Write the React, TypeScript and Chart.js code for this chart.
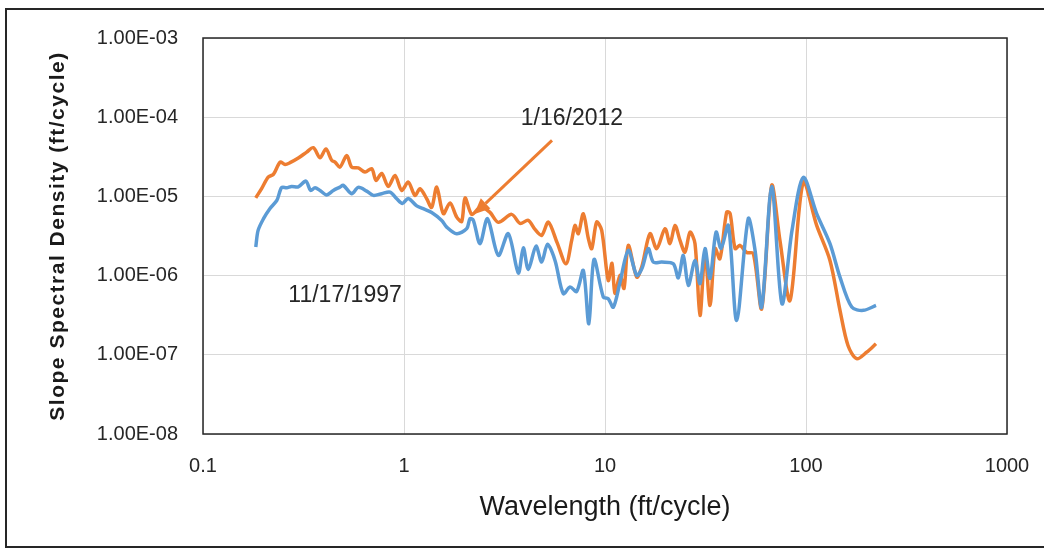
import React, { useEffect, useRef } from "react";
import { Chart, registerables } from "chart.js";

Chart.register(...registerables);

// ---- data ----
const seriesNames = ["11/17/1997", "1/16/2012"];

const wavelength1997 = [
  0.183, 0.188, 0.2, 0.215, 0.233, 0.246, 0.261, 0.276, 0.298, 0.325,
  0.343, 0.361, 0.382, 0.412, 0.445, 0.48, 0.499, 0.549, 0.592, 0.652,
  0.704, 0.774, 0.852, 0.92, 0.983, 1.05, 1.157, 1.247, 1.373, 1.54,
  1.631, 1.829, 2.051, 2.13, 2.213, 2.388, 2.603, 2.946, 3.304, 3.705,
  3.922, 4.153, 4.536, 4.842, 5.176, 5.64, 6.2, 6.7, 7.23, 7.8,
  8.31, 8.82, 9.81, 10.38, 11.0, 11.88, 13.06, 14.38, 15.28, 16.42,
  17.39, 19.15, 21.87, 23.16, 24.53, 25.97, 28.04, 29.69, 31.44, 33.3,
  35.7, 37.8, 41.1, 45.2, 51.6, 55.8, 60.2, 67.5, 75.9, 85.2,
  96.9, 113, 131.6, 147.6, 168.9, 192.8, 223,
];
const density1997 = [
  2.29e-6, 3.72e-6, 5.23e-6, 6.99e-6, 8.9e-6, 1.288e-5, 1.288e-5, 1.338e-5, 1.318e-5, 1.56e-5,
  1.19e-5, 1.288e-5, 1.19e-5, 1.045e-5, 1.19e-5, 1.31e-5, 1.377e-5, 1.082e-5, 1.3e-5, 1.166e-5,
  1.03e-5, 1.082e-5, 1.133e-5, 9.35e-6, 8.16e-6, 9.43e-6, 7.59e-6, 6.99e-6, 6.28e-6, 4.98e-6,
  4.1e-6, 3.38e-6, 3.91e-6, 5.23e-6, 4.98e-6, 2.53e-6, 5.23e-6, 1.8e-6, 3.38e-6, 1.08e-6,
  2.24e-6, 1.197e-6, 2.35e-6, 1.48e-6, 2.48e-6, 1.555e-6, 5.91e-7, 7.16e-7, 6.32e-7, 1.163e-6,
  2.47e-7, 1.6e-6, 5.35e-7, 5.11e-7, 4.0e-7, 8.28e-7, 2.08e-6, 1.006e-6, 1.233e-6, 2.19e-6,
  1.48e-6, 1.48e-6, 1.41e-6, 9.35e-7, 1.8e-6, 7.52e-7, 1.555e-6, 7.9e-7, 2.19e-6, 9.22e-7,
  3.54e-6, 2.2e-6, 4.3e-6, 2.72e-7, 5.23e-6, 2.08e-6, 4.0e-7, 1.338e-5, 4.42e-7, 3.72e-6,
  1.738e-5, 6.05e-6, 2.53e-6, 9.57e-7, 4.0e-7, 3.64e-7, 4.2e-7,
];

const wavelength2012 = [
  0.183, 0.196, 0.211, 0.224, 0.242, 0.256, 0.271, 0.298, 0.328, 0.354,
  0.382, 0.409, 0.437, 0.454, 0.48, 0.519, 0.549, 0.592, 0.64, 0.691,
  0.726, 0.774, 0.836, 0.902, 0.974, 1.05, 1.134, 1.201, 1.297, 1.373,
  1.455, 1.569, 1.694, 1.829, 1.937, 2.012, 2.172, 2.343, 2.436, 2.679,
  2.946, 3.434, 3.777, 4.153, 4.485, 4.842, 5.224, 5.77, 6.397, 6.829,
  7.092, 7.366, 7.8, 8.26, 8.59, 9.09, 9.63, 10.38, 10.83, 11.21,
  11.88, 12.43, 13.06, 14.38, 15.23, 16.75, 18.08, 19.89, 21.06, 22.3,
  23.61, 25.0, 26.48, 28.04, 29.69, 31.44, 33.3, 35.3, 37.3, 40.3,
  41.9, 44.4, 46.9, 50.7, 54.7, 60.2, 67.5, 74.2, 83.3, 96.9,
  113, 131.6, 147.6, 161.8, 178.7, 200.4, 223,
];
const density2012 = [
  9.57e-6, 1.262e-5, 1.753e-5, 1.896e-5, 2.711e-5, 2.535e-5, 2.664e-5, 3.045e-5, 3.625e-5, 4.12e-5,
  3.08e-5, 3.98e-5, 2.85e-5, 2.71e-5, 2.344e-5, 3.294e-5, 2.344e-5, 2.29e-5, 2.027e-5, 2.237e-5,
  1.592e-5, 1.951e-5, 1.338e-5, 1.842e-5, 1.19e-5, 1.515e-5, 1.03e-5, 1.251e-5, 9.35e-6, 7.26e-6,
  1.31e-5, 6.05e-6, 8.28e-6, 5.48e-6, 4.83e-6, 9.57e-6, 5.93e-6, 6.99e-6, 7.33e-6, 6.28e-6,
  4.7e-6, 5.93e-6, 4.56e-6, 4.98e-6, 3.83e-6, 3.22e-6, 4.74e-6, 2.63e-6, 1.41e-6, 2.78e-6,
  4.3e-6, 3.38e-6, 6.05e-6, 2.95e-6, 2.19e-6, 4.74e-6, 3.72e-6, 8.7e-7, 1.43e-6, 5.96e-7,
  1.006e-6, 6.89e-7, 2.41e-6, 9.57e-7, 1.28e-6, 3.38e-6, 2.19e-6, 3.91e-6, 2.53e-6, 4.3e-6,
  2.78e-6, 1.98e-6, 3.54e-6, 2.53e-6, 3.14e-7, 1.98e-6, 4.2e-7, 2.19e-6, 1.63e-6, 6.34e-6,
  6.1e-6, 2.19e-6, 2.41e-6, 1.96e-6, 1.905e-6, 3.82e-7, 1.377e-5, 2.78e-6, 4.86e-7, 1.515e-5,
  4.3e-6, 1.555e-6, 3.64e-7, 1.31e-7, 8.93e-8, 1.08e-7, 1.38e-7,
];

const xTickValues = [0.1, 1, 10, 100, 1000];
const xTickLabels = ["0.1", "1", "10", "100", "1000"];
const yTickValues = [1e-8, 1e-7, 1e-6, 1e-5, 1e-4, 1e-3];
const yTickLabels = ["1.00E-08", "1.00E-07", "1.00E-06", "1.00E-05", "1.00E-04", "1.00E-03"];

const xTitle = "Wavelength (ft/cycle)";
const yTitle = "Slope Spectral Density (ft/cycle)";

// annotation anchors in data coordinates (wavelength, density)
const label2012At = [6.85, 9.66e-5];
const label1997At = [0.509, 5.62e-7];
const arrowFrom = [5.45, 5.1e-5];
const arrowTo = [2.23, 5.93e-6];

const BLUE = "#5B9BD5";
const ORANGE = "#ED7D31";
const FONT = "'Liberation Sans', Arial, sans-serif";

const framePlugin = {
  id: "frame",
  afterDraw(chart: any) {
    const { ctx, chartArea } = chart;
    ctx.save();
    ctx.strokeStyle = "#262626";
    ctx.lineWidth = 1.5;
    ctx.strokeRect(chartArea.left, chartArea.top, chartArea.right - chartArea.left, chartArea.bottom - chartArea.top);
    ctx.restore();
  },
};

const yTitlePlugin = {
  id: "ytitle",
  afterDraw(chart: any) {
    const { ctx, chartArea } = chart;
    ctx.save();
    ctx.translate(58, (chartArea.top + chartArea.bottom) / 2);
    ctx.rotate(-Math.PI / 2);
    ctx.font = `bold 21px ${FONT}`;
    (ctx as any).letterSpacing = "1.5px";
    ctx.fillStyle = "#1a1a1a";
    ctx.textAlign = "center";
    ctx.textBaseline = "middle";
    ctx.fillText(yTitle, 0, 0);
    ctx.restore();
  },
};

const annotationPlugin = {
  id: "annot",
  afterDatasetsDraw(chart: any) {
    const { ctx } = chart;
    const sx = chart.scales.x;
    const sy = chart.scales.y;
    const px = (p: number[]) => [sx.getPixelForValue(p[0]), sy.getPixelForValue(p[1])];
    ctx.save();
    ctx.fillStyle = "#262626";
    ctx.font = `23px ${FONT}`;
    ctx.textAlign = "center";
    ctx.textBaseline = "middle";
    const a = px(label2012At);
    ctx.fillText(seriesNames[1], a[0], a[1]);
    const b = px(label1997At);
    ctx.fillText(seriesNames[0], b[0], b[1]);

    const [x0, y0] = px(arrowFrom);
    const [x1, y1] = px(arrowTo);
    const ang = Math.atan2(y1 - y0, x1 - x0);
    const headLen = 16;
    const headW = 7;
    const bx = x1 - headLen * Math.cos(ang);
    const by = y1 - headLen * Math.sin(ang);
    ctx.strokeStyle = ORANGE;
    ctx.lineWidth = 3;
    ctx.beginPath();
    ctx.moveTo(x0, y0);
    ctx.lineTo(bx, by);
    ctx.stroke();
    ctx.fillStyle = ORANGE;
    ctx.beginPath();
    ctx.moveTo(x1, y1);
    ctx.lineTo(bx + headW * Math.sin(ang), by - headW * Math.cos(ang));
    ctx.lineTo(bx - headW * Math.sin(ang), by + headW * Math.cos(ang));
    ctx.closePath();
    ctx.fill();
    ctx.restore();
  },
};

export default function App() {
  const ref = useRef<HTMLCanvasElement | null>(null);

  useEffect(() => {
    if (!ref.current) return;
    const chart = new Chart(ref.current, {
      type: "line",
      data: {
        datasets: [
          {
            label: seriesNames[0],
            data: wavelength1997.map((w, i) => ({ x: w, y: density1997[i] })),
            borderColor: BLUE,
            backgroundColor: BLUE,
            borderWidth: 3.5,
            pointRadius: 0,
            tension: 0.3,
            fill: false,
          },
          {
            label: seriesNames[1],
            data: wavelength2012.map((w, i) => ({ x: w, y: density2012[i] })),
            borderColor: ORANGE,
            backgroundColor: ORANGE,
            borderWidth: 3.5,
            pointRadius: 0,
            tension: 0.3,
            fill: false,
          },
        ],
      },
      options: {
        responsive: false,
        animation: false,
        layout: { padding: { left: 0, top: 38, right: 37, bottom: 0 } },
        plugins: { legend: { display: false }, tooltip: { enabled: false } },
        scales: {
          x: {
            type: "logarithmic",
            min: 0.1,
            max: 1000,
            afterBuildTicks: (s: any) => {
              s.ticks = xTickValues.map((v) => ({ value: v }));
            },
            afterFit: (s: any) => {
              s.height = 114;
              s.paddingLeft = 0;
              s.paddingRight = 0;
            },
            ticks: {
              callback: (_v: any, i: number) => xTickLabels[i],
              font: { family: FONT, size: 20 },
              color: "#262626",
              padding: 20,
              maxRotation: 0,
              autoSkip: false,
            },
            grid: { color: "#d9d9d9", drawTicks: false, lineWidth: 1 },
            border: { display: false },
            title: {
              display: true,
              text: xTitle,
              font: { family: FONT, size: 27 },
              color: "#1a1a1a",
              padding: { top: 0, bottom: 24 },
            },
          },
          y: {
            type: "logarithmic",
            min: 1e-8,
            max: 1e-3,
            afterBuildTicks: (s: any) => {
              s.ticks = yTickValues.map((v) => ({ value: v }));
            },
            afterFit: (s: any) => {
              s.width = 203;
              s.paddingTop = 0;
              s.paddingBottom = 0;
            },
            ticks: {
              callback: (_v: any, i: number) => yTickLabels[i],
              font: { family: FONT, size: 20 },
              color: "#262626",
              padding: 25,
              autoSkip: false,
            },
            grid: { color: "#d9d9d9", drawTicks: false, lineWidth: 1 },
            border: { display: false },
          },
        },
      },
      plugins: [framePlugin, annotationPlugin, yTitlePlugin],
    } as any);
    return () => chart.destroy();
  }, []);

  return (
    <div style={{ position: "fixed", left: 0, top: 0, width: 1044, height: 548, background: "#fff" }}>
      <div
        style={{
          position: "absolute",
          left: 5,
          top: 8,
          width: 1050,
          height: 536,
          borderLeft: "2px solid #262626",
          borderTop: "2px solid #262626",
          borderBottom: "2px solid #262626",
        }}
      />
      <canvas ref={ref} width={1044} height={548} style={{ position: "absolute", left: 0, top: 0 }} />
    </div>
  );
}
